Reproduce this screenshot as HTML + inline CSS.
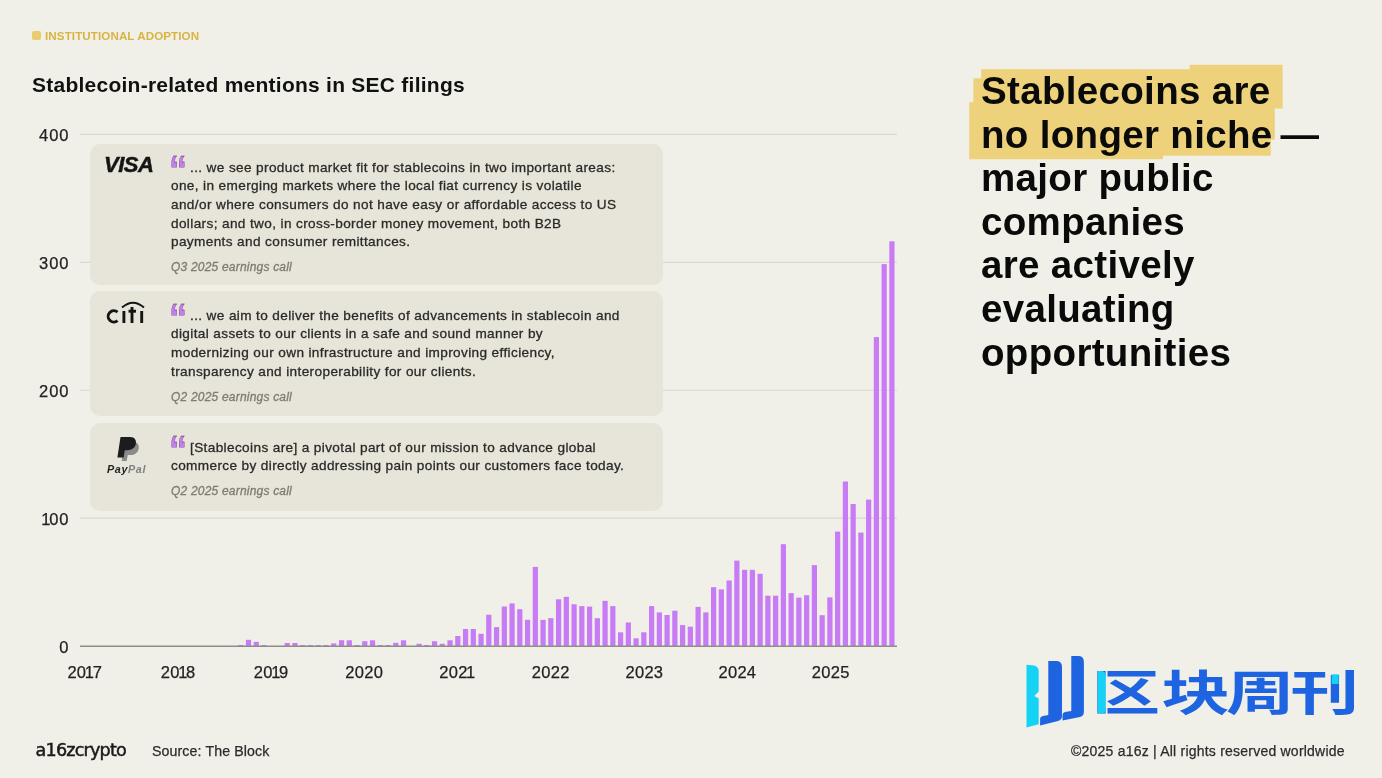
<!DOCTYPE html>
<html lang="en">
<head>
<meta charset="utf-8">
<title>Stablecoin-related mentions in SEC filings</title>
<style>
html,body{margin:0;padding:0;}
body{width:1382px;height:778px;overflow:hidden;position:relative;background:#F0F0E9;will-change:transform;font-family:"Liberation Sans",Arial,sans-serif;color:#1a1a1a;}
.abs{position:absolute;}
.tag{left:32px;top:30px;height:12px;}
.tag .sq{position:absolute;left:0;top:1px;width:9px;height:9px;border-radius:2px;background:#EACB6E;}
.tag .tx{position:absolute;left:13px;top:-1px;font-size:11.6px;font-weight:700;color:#D9B443;white-space:nowrap;letter-spacing:0.1px;}
.title{left:32px;top:73px;font-size:21px;font-weight:700;color:#111;white-space:nowrap;letter-spacing:0.25px;}
.ylab{position:absolute;right:1312.5px;font-size:16.5px;letter-spacing:1px;color:#222;-webkit-text-stroke:0.25px #222;line-height:16px;text-align:right;white-space:nowrap;}
.xlab{position:absolute;top:664px;font-size:16.5px;letter-spacing:0.3px;color:#222;-webkit-text-stroke:0.25px #222;line-height:16px;width:60px;margin-left:-30px;text-align:center;}
.one{margin-left:-1.6px;letter-spacing:-1.2px;}
.card{position:absolute;left:90px;width:572.5px;background:#E7E5D9;border-radius:10px;}
.q{position:absolute;left:81px;font-family:"Liberation Sans",Arial,sans-serif;font-size:13.6px;line-height:18.65px;color:#2a2a2a;letter-spacing:0.375px;-webkit-text-stroke:0.3px #2a2a2a;white-space:nowrap;}
.qm{display:inline-block;width:19px;color:#C77BF5;font-family:"Liberation Sans",sans-serif;font-weight:700;font-size:40px;line-height:10px;vertical-align:top;position:relative;top:6.5px;left:-2px;transform:scaleX(0.9);transform-origin:0 0;letter-spacing:0;}
.src{position:absolute;left:81px;font-size:12px;font-style:italic;color:#7d7b74;white-space:nowrap;letter-spacing:0.2px;-webkit-text-stroke:0.3px #7d7b74;}
.head{left:981px;top:69px;font-size:38.5px;font-weight:700;line-height:43.6px;letter-spacing:0.33px;color:#0a0a0a;white-space:nowrap;}
.foot{font-size:14px;color:#2b2b2b;white-space:nowrap;-webkit-text-stroke:0.25px #2b2b2b;}
</style>
</head>
<body>

<div class="abs tag"><div class="sq"></div><div class="tx">INSTITUTIONAL ADOPTION</div></div>
<div class="abs title">Stablecoin-related mentions in SEC filings</div>

<!-- chart -->
<svg class="abs" style="left:0;top:0" width="1382" height="778" viewBox="0 0 1382 778">
  <g stroke="#DAD8D0" stroke-width="1.2">
    <line x1="80" y1="134.35" x2="897" y2="134.35"/>
    <line x1="80" y1="262.3" x2="897" y2="262.3"/>
    <line x1="80" y1="390.25" x2="897" y2="390.25"/>
    <line x1="80" y1="518.2" x2="897" y2="518.2"/>
  </g>
  <g fill="#C77BF5">
<rect x="238.14" y="645.00" width="5.2" height="1.00"/>
<rect x="245.89" y="639.80" width="5.2" height="6.20"/>
<rect x="253.64" y="641.90" width="5.2" height="4.10"/>
<rect x="261.40" y="645.00" width="5.2" height="1.00"/>
<rect x="284.65" y="643.00" width="5.2" height="3.00"/>
<rect x="292.40" y="643.00" width="5.2" height="3.00"/>
<rect x="300.16" y="645.00" width="5.2" height="1.00"/>
<rect x="307.91" y="645.00" width="5.2" height="1.00"/>
<rect x="315.66" y="645.00" width="5.2" height="1.00"/>
<rect x="323.41" y="645.00" width="5.2" height="1.00"/>
<rect x="331.16" y="643.40" width="5.2" height="2.60"/>
<rect x="338.92" y="640.20" width="5.2" height="5.80"/>
<rect x="346.67" y="640.30" width="5.2" height="5.70"/>
<rect x="354.42" y="645.00" width="5.2" height="1.00"/>
<rect x="362.17" y="641.20" width="5.2" height="4.80"/>
<rect x="369.92" y="640.30" width="5.2" height="5.70"/>
<rect x="377.68" y="645.00" width="5.2" height="1.00"/>
<rect x="385.43" y="645.00" width="5.2" height="1.00"/>
<rect x="393.18" y="642.80" width="5.2" height="3.20"/>
<rect x="400.93" y="640.30" width="5.2" height="5.70"/>
<rect x="416.44" y="643.80" width="5.2" height="2.20"/>
<rect x="424.19" y="645.00" width="5.2" height="1.00"/>
<rect x="431.94" y="641.20" width="5.2" height="4.80"/>
<rect x="439.69" y="643.80" width="5.2" height="2.20"/>
<rect x="447.44" y="640.30" width="5.2" height="5.70"/>
<rect x="455.20" y="636.00" width="5.2" height="10.00"/>
<rect x="462.95" y="629.00" width="5.2" height="17.00"/>
<rect x="470.70" y="629.00" width="5.2" height="17.00"/>
<rect x="478.45" y="633.80" width="5.2" height="12.20"/>
<rect x="486.20" y="614.70" width="5.2" height="31.30"/>
<rect x="493.96" y="627.10" width="5.2" height="18.90"/>
<rect x="501.71" y="606.50" width="5.2" height="39.50"/>
<rect x="509.46" y="603.40" width="5.2" height="42.60"/>
<rect x="517.21" y="609.20" width="5.2" height="36.80"/>
<rect x="524.96" y="619.80" width="5.2" height="26.20"/>
<rect x="532.72" y="566.90" width="5.2" height="79.10"/>
<rect x="540.47" y="619.90" width="5.2" height="26.10"/>
<rect x="548.22" y="618.20" width="5.2" height="27.80"/>
<rect x="555.97" y="599.30" width="5.2" height="46.70"/>
<rect x="563.72" y="596.80" width="5.2" height="49.20"/>
<rect x="571.48" y="604.30" width="5.2" height="41.70"/>
<rect x="579.23" y="606.10" width="5.2" height="39.90"/>
<rect x="586.98" y="606.60" width="5.2" height="39.40"/>
<rect x="594.73" y="618.20" width="5.2" height="27.80"/>
<rect x="602.48" y="600.80" width="5.2" height="45.20"/>
<rect x="610.24" y="606.10" width="5.2" height="39.90"/>
<rect x="617.99" y="632.30" width="5.2" height="13.70"/>
<rect x="625.74" y="622.50" width="5.2" height="23.50"/>
<rect x="633.49" y="638.30" width="5.2" height="7.70"/>
<rect x="641.24" y="632.30" width="5.2" height="13.70"/>
<rect x="649.00" y="606.10" width="5.2" height="39.90"/>
<rect x="656.75" y="612.40" width="5.2" height="33.60"/>
<rect x="664.50" y="615.00" width="5.2" height="31.00"/>
<rect x="672.25" y="610.70" width="5.2" height="35.30"/>
<rect x="680.00" y="625.10" width="5.2" height="20.90"/>
<rect x="687.76" y="626.70" width="5.2" height="19.30"/>
<rect x="695.51" y="606.90" width="5.2" height="39.10"/>
<rect x="703.26" y="612.40" width="5.2" height="33.60"/>
<rect x="711.01" y="587.20" width="5.2" height="58.80"/>
<rect x="718.76" y="589.40" width="5.2" height="56.60"/>
<rect x="726.52" y="580.50" width="5.2" height="65.50"/>
<rect x="734.27" y="560.60" width="5.2" height="85.40"/>
<rect x="742.02" y="569.80" width="5.2" height="76.20"/>
<rect x="749.77" y="569.80" width="5.2" height="76.20"/>
<rect x="757.52" y="573.80" width="5.2" height="72.20"/>
<rect x="765.28" y="595.70" width="5.2" height="50.30"/>
<rect x="773.03" y="595.70" width="5.2" height="50.30"/>
<rect x="780.78" y="544.20" width="5.2" height="101.80"/>
<rect x="788.53" y="593.10" width="5.2" height="52.90"/>
<rect x="796.28" y="597.60" width="5.2" height="48.40"/>
<rect x="804.04" y="595.20" width="5.2" height="50.80"/>
<rect x="811.79" y="565.10" width="5.2" height="80.90"/>
<rect x="819.54" y="615.20" width="5.2" height="30.80"/>
<rect x="827.29" y="597.40" width="5.2" height="48.60"/>
<rect x="835.04" y="531.60" width="5.2" height="114.40"/>
<rect x="842.80" y="481.50" width="5.2" height="164.50"/>
<rect x="850.55" y="504.00" width="5.2" height="142.00"/>
<rect x="858.30" y="532.60" width="5.2" height="113.40"/>
<rect x="866.05" y="499.60" width="5.2" height="146.40"/>
<rect x="873.80" y="337.10" width="5.2" height="308.90"/>
<rect x="881.56" y="264.10" width="5.2" height="381.90"/>
<rect x="889.31" y="241.30" width="5.2" height="404.70"/>
  </g>
  <line x1="80" y1="646.2" x2="897" y2="646.2" stroke="#8E8D87" stroke-width="1.5"/>
</svg>

<div class="ylab" style="top:127px">400</div>
<div class="ylab" style="top:255px">300</div>
<div class="ylab" style="top:383px">200</div>
<div class="ylab" style="top:511px"><span class="one">1</span>00</div>
<div class="ylab" style="top:639px">0</div>

<div class="xlab" style="left:84.8px">20<span class="one">1</span>7</div>
<div class="xlab" style="left:178.2px">20<span class="one">1</span>8</div>
<div class="xlab" style="left:271.2px">20<span class="one">1</span>9</div>
<div class="xlab" style="left:364.3px">2020</div>
<div class="xlab" style="left:456.7px">202<span class="one">1</span></div>
<div class="xlab" style="left:550.8px">2022</div>
<div class="xlab" style="left:644.4px">2023</div>
<div class="xlab" style="left:737.4px">2024</div>
<div class="xlab" style="left:830.8px">2025</div>

<!-- card 1 VISA -->
<div class="card" style="top:143.5px;height:141px;">
  <div class="abs" style="left:14px;top:8px;font-size:22px;font-weight:700;font-style:italic;letter-spacing:-0.5px;color:#141414;-webkit-text-stroke:0.5px #141414;">VISA</div>
  <div class="q" style="top:15.3px;"><span class="qm">&ldquo;</span>... we see product market fit for stablecoins in two important areas:<br>one, in emerging markets where the local fiat currency is volatile<br>and/or where consumers do not have easy or affordable access to US<br>dollars; and two, in cross-border money movement, both B2B<br>payments and consumer remittances.</div>
  <div class="src" style="top:116px;">Q3 2025 earnings call</div>
</div>

<!-- card 2 citi -->
<div class="card" style="top:291px;height:125px;">
  <svg class="abs" style="left:14px;top:9px" width="42" height="26" viewBox="0 0 42 26">
    <g fill="none" stroke="#141414" stroke-width="2.9">
      <path d="M13.5 12.2 A5.6 5.6 0 1 0 13.5 20.6"/>
      <line x1="19.9" y1="11" x2="19.9" y2="23"/>
      <line x1="28" y1="7" x2="28" y2="23"/>
      <line x1="24.5" y1="11.2" x2="32" y2="11.2"/>
      <line x1="37.7" y1="11" x2="37.7" y2="23"/>
      <path d="M18 7.6 Q29 -2.2 40 7.6" stroke-width="2"/>
    </g>
  </svg>
  <div class="q" style="top:15.8px;"><span class="qm">&ldquo;</span>... we aim to deliver the benefits of advancements in stablecoin and<br>digital assets to our clients in a safe and sound manner by<br>modernizing our own infrastructure and improving efficiency,<br>transparency and interoperability for our clients.</div>
  <div class="src" style="top:99.3px;">Q2 2025 earnings call</div>
</div>

<!-- card 3 PayPal -->
<div class="card" style="top:423px;height:88px;">
  <svg class="abs" style="left:26px;top:13px" width="26" height="26" viewBox="0 0 26 26">
    <path d="M7.5 6 L17 6 C22 6 23.5 9.5 22.6 13 C21.6 17 18.5 19 14.5 19 L11.8 19 L10.6 25 L5.8 25 Z" fill="#8a8a8a"/>
    <path d="M4.5 1 L14 1 C19 1 20.6 4.4 19.8 8 C18.8 12 15.6 14.2 11.5 14.2 L8.8 14.2 L7.6 21.5 L1.4 21.5 Z" fill="#1c1c1c"/>
  </svg>
  <div class="abs" style="left:17px;top:40px;font-size:10.8px;font-weight:700;font-style:italic;color:#222;white-space:nowrap;letter-spacing:0.6px;">Pay<span style="color:#808080">Pal</span></div>
  <div class="q" style="top:15.5px;"><span class="qm">&ldquo;</span>[Stablecoins are] a pivotal part of our mission to advance global<br>commerce by directly addressing pain points our customers face today.</div>
  <div class="src" style="top:61px;">Q2 2025 earnings call</div>
</div>

<!-- headline -->
<svg class="abs" style="left:960px;top:60px" width="330" height="105" viewBox="960 60 330 105">
  <path d="M981.2 69.3 L1189.7 69.3 L1189.7 64.8 L1282.6 64.8 L1282.6 108.5 L1274.8 108.5 L1274.8 139.7 L1270.8 139.7 L1270.8 155.8 L1163 155.8 L1163 159.3 L969.2 159.3 L969.2 102.3 L973.4 102.3 L973.4 78.3 L981.2 78.3 Z" fill="#EDD27B"/>
</svg>
<div class="abs head">Stablecoins are<br>no longer niche <span style="margin-left:-3px">&mdash;</span><br>major public<br>companies<br>are actively<br>evaluating<br>opportunities</div>

<!-- footer -->
<div class="abs" style="left:35.5px;top:740px;font-family:'DejaVu Sans',sans-serif;font-size:17.6px;font-weight:400;letter-spacing:-0.8px;color:#1a1a1a;-webkit-text-stroke:0.5px #1a1a1a;white-space:nowrap;">a16zcrypto</div>
<div class="abs foot" style="left:152px;top:743px;font-size:14.2px;letter-spacing:0.1px;">Source: The Block</div>
<div class="abs foot" style="left:1071px;top:743px;font-size:14px;letter-spacing:0.22px;">&copy;2025 a16z | All rights reserved worldwide</div>

<!-- watermark -->
<div class="abs" style="left:1096.5px;top:660px;font-family:'Noto Sans CJK SC','WenQuanYi Zen Hei',sans-serif;font-weight:700;font-size:47.5px;line-height:60px;letter-spacing:-2.7px;color:#1E64E0;white-space:nowrap;transform-origin:0 0;transform:scaleX(1.44);"><span style="position:relative;left:-3.6px">区</span>块周刊</div>
<svg class="abs" style="left:1020px;top:650px" width="330" height="85" viewBox="1020 650 330 85">
  <path d="M1026.5 664.8 L1034 665.5 Q1038.7 666.5 1038.7 671 L1038.7 691.5 L1034.3 695.9 L1038.7 698.6 L1038.7 724.3 L1026.5 727.6 Z" fill="#16D3F5"/>
  <path d="M1048.3 661 L1057 661 Q1062 661.5 1062 667 L1062 716 Q1062 720 1058 721 L1040.1 725.4 L1040.1 719 Q1040.1 716.5 1043 716 L1048.3 715 Z" fill="#1E64E0"/>
  <path d="M1071.3 656 L1079 656 Q1083.9 656.5 1083.9 662 L1083.9 712 Q1083.9 716 1080 717 L1062.5 720.5 L1062.5 715 Q1062.5 712.5 1065 712 L1071.3 711 Z" fill="#1E64E0"/>
  <rect x="1105.6" y="668" width="1.9" height="48" fill="#F0F0E9"/>
  <path d="M1097.8 671 L1102 671 Q1105.7 671.6 1105.7 675.5 L1105.7 709.5 Q1105.7 713.6 1102 713.6 L1097.8 713.6 Z" fill="#16D3F5"/>
  <rect x="1331.7" y="674.3" width="6.9" height="9.7" fill="#16D3F5"/>
</svg>

</body>
</html>
